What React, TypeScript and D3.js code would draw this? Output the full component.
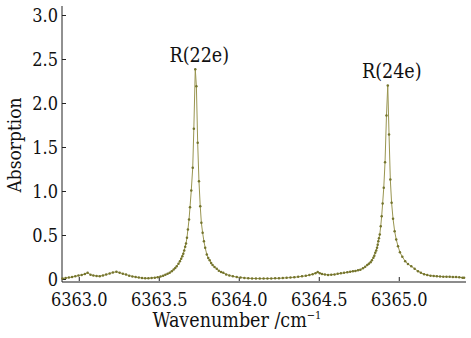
import React from 'react';
import * as d3 from 'd3';

// spectrum (wavenumber / cm-1, absorption)
const wavenumbers = [
  6362.895, 6362.915, 6362.935, 6362.955, 6362.975, 6362.995, 6363.015, 6363.035, 6363.052, 6363.070,
  6363.088, 6363.108, 6363.128, 6363.148, 6363.168, 6363.190, 6363.210, 6363.232, 6363.252, 6363.272,
  6363.292, 6363.312, 6363.332, 6363.352, 6363.372, 6363.392, 6363.412, 6363.432, 6363.452, 6363.472,
  6363.490, 6363.508, 6363.524, 6363.538, 6363.552, 6363.565, 6363.578, 6363.590, 6363.600, 6363.609,
  6363.620, 6363.629, 6363.637, 6363.644, 6363.650, 6363.656, 6363.662, 6363.667, 6363.673, 6363.679,
  6363.686, 6363.692, 6363.700, 6363.709, 6363.716, 6363.725, 6363.732, 6363.740, 6363.748, 6363.756,
  6363.763, 6363.771, 6363.779, 6363.787, 6363.797, 6363.806, 6363.815, 6363.824, 6363.833, 6363.845,
  6363.859, 6363.872, 6363.886, 6363.900, 6363.918, 6363.938, 6363.960, 6363.984, 6364.008, 6364.032,
  6364.056, 6364.080, 6364.104, 6364.128, 6364.152, 6364.176, 6364.200, 6364.224, 6364.248, 6364.272,
  6364.296, 6364.320, 6364.344, 6364.368, 6364.392, 6364.416, 6364.438, 6364.458, 6364.476, 6364.490,
  6364.503, 6364.517, 6364.535, 6364.555, 6364.575, 6364.595, 6364.615, 6364.635, 6364.655, 6364.675,
  6364.693, 6364.710, 6364.726, 6364.742, 6364.757, 6364.773, 6364.787, 6364.800, 6364.810, 6364.821,
  6364.829, 6364.838, 6364.844, 6364.850, 6364.856, 6364.861, 6364.865, 6364.869, 6364.873, 6364.878,
  6364.884, 6364.890, 6364.896, 6364.903, 6364.911, 6364.920, 6364.928, 6364.936, 6364.944, 6364.952,
  6364.961, 6364.971, 6364.981, 6364.992, 6365.004, 6365.019, 6365.037, 6365.054, 6365.075, 6365.096,
  6365.117, 6365.135, 6365.155, 6365.175, 6365.195, 6365.215, 6365.235, 6365.255, 6365.275, 6365.295,
  6365.315, 6365.335, 6365.355, 6365.375, 6365.395, 6365.405,
];

const absorption = [
  0.012, 0.016, 0.022, 0.028, 0.036, 0.045, 0.052, 0.062, 0.076, 0.055,
  0.045, 0.040, 0.038, 0.046, 0.056, 0.068, 0.080, 0.088, 0.078, 0.066,
  0.056, 0.044, 0.035, 0.028, 0.022, 0.017, 0.013, 0.014, 0.018, 0.021,
  0.026, 0.033, 0.042, 0.055, 0.064, 0.077, 0.094, 0.114, 0.132, 0.150,
  0.178, 0.208, 0.236, 0.265, 0.292, 0.330, 0.372, 0.410, 0.474, 0.568,
  0.682, 0.822, 1.011, 1.270, 1.712, 2.390, 2.195, 1.553, 1.117, 0.833,
  0.644, 0.530, 0.435, 0.360, 0.284, 0.245, 0.218, 0.188, 0.166, 0.142,
  0.122, 0.100, 0.086, 0.076, 0.058, 0.046, 0.036, 0.027, 0.022, 0.018,
  0.014, 0.012, 0.011, 0.010, 0.010, 0.011, 0.012, 0.013, 0.014, 0.016,
  0.019, 0.022, 0.026, 0.030, 0.036, 0.042, 0.050, 0.060, 0.072, 0.086,
  0.072, 0.062, 0.056, 0.052, 0.054, 0.058, 0.064, 0.070, 0.076, 0.082,
  0.088, 0.094, 0.098, 0.104, 0.112, 0.128, 0.145, 0.165, 0.180, 0.197,
  0.220, 0.246, 0.270, 0.303, 0.330, 0.360, 0.395, 0.435, 0.470, 0.511,
  0.606, 0.720, 0.864, 1.042, 1.333, 1.864, 2.205, 1.648, 1.136, 0.871,
  0.690, 0.549, 0.455, 0.379, 0.310, 0.258, 0.208, 0.175, 0.151, 0.121,
  0.094, 0.076, 0.060, 0.050, 0.044, 0.040, 0.037, 0.034, 0.032, 0.031,
  0.030, 0.028, 0.027, 0.025, 0.021, 0.019,
];

const xTicks = [6363.0, 6363.5, 6364.0, 6364.5, 6365.0];
const xTickLabels = ['6363.0', '6363.5', '6364.0', '6364.5', '6365.0'];
const yTicks = [0, 0.5, 1.0, 1.5, 2.0, 2.5, 3.0];
const yTickLabels = ['0', '0.5', '1.0', '1.5', '2.0', '2.5', '3.0'];

const peakLabels = ['R(22e)', 'R(24e)'];
const peakPositions = [6363.725, 6364.928];
const peakHeights = [2.39, 2.205];

const W = 471;
const H = 338;
const FONT = '"DejaVu Serif", serif';
const textStyle = { fontFamily: FONT, fontStretch: 'condensed' as const };

export default function App() {
  const x = d3.scaleLinear().domain([6362.892, 6365.417]).range([62, 466]);
  const y = d3.scaleLinear().domain([0, 3]).range([279.5, 15.5]);

  const points = wavenumbers.map((w, i) => [w, absorption[i]] as [number, number]);
  const line = d3.line<[number, number]>()
    .x(d => x(d[0]))
    .y(d => y(d[1]));

  return (
    <svg width={W} height={H} style={{ position: 'absolute', left: 0, top: 0, background: '#fff' }}>
      {/* x axis */}
      <line x1={62} x2={466} y1={282} y2={282} stroke="#8c8c8c" strokeWidth={2} />
      {xTicks.map((t, i) => (
        <g key={t}>
          <line x1={x(t)} x2={x(t)} y1={281} y2={277} stroke="#222" strokeWidth={1} />
          <text x={x(t)} y={306} textAnchor="middle" style={textStyle} fontSize={18} fill="#111">
            {xTickLabels[i]}
          </text>
        </g>
      ))}
      <text x={237} y={327} textAnchor="middle" style={textStyle} fontSize={19.5} fill="#111">
        Wavenumber /cm<tspan fontSize={11} dy={-8}>−1</tspan>
      </text>

      {/* y axis */}
      <line x1={62} x2={62} y1={6} y2={282} stroke="#222" strokeWidth={1} />
      {yTicks.map((t, i) => (
        <g key={t}>
          <line x1={62} x2={66} y1={y(t)} y2={y(t)} stroke="#222" strokeWidth={1} />
          <text x={58} y={y(t) + 6.5} textAnchor="end" style={textStyle} fontSize={18} fill="#111">
            {yTickLabels[i]}
          </text>
        </g>
      ))}
      <text transform={`translate(21,${145}) rotate(-90)`} textAnchor="middle" style={textStyle} fontSize={19} fill="#111">
        Absorption
      </text>

      {/* spectrum */}
      <path d={line(points) || ''} fill="none" stroke="#999550" strokeWidth={1} />
      {points.map((d, i) => (
        <circle key={i} cx={x(d[0])} cy={y(d[1])} r={1.25} fill="#74742c" />
      ))}

      {peakLabels.map((l, i) => (
        <text key={l} x={x(peakPositions[i]) + 4} y={y(peakHeights[i]) - 7}
          textAnchor="middle" style={textStyle} fontSize={19.5} fill="#111">
          {l}
        </text>
      ))}
    </svg>
  );
}
